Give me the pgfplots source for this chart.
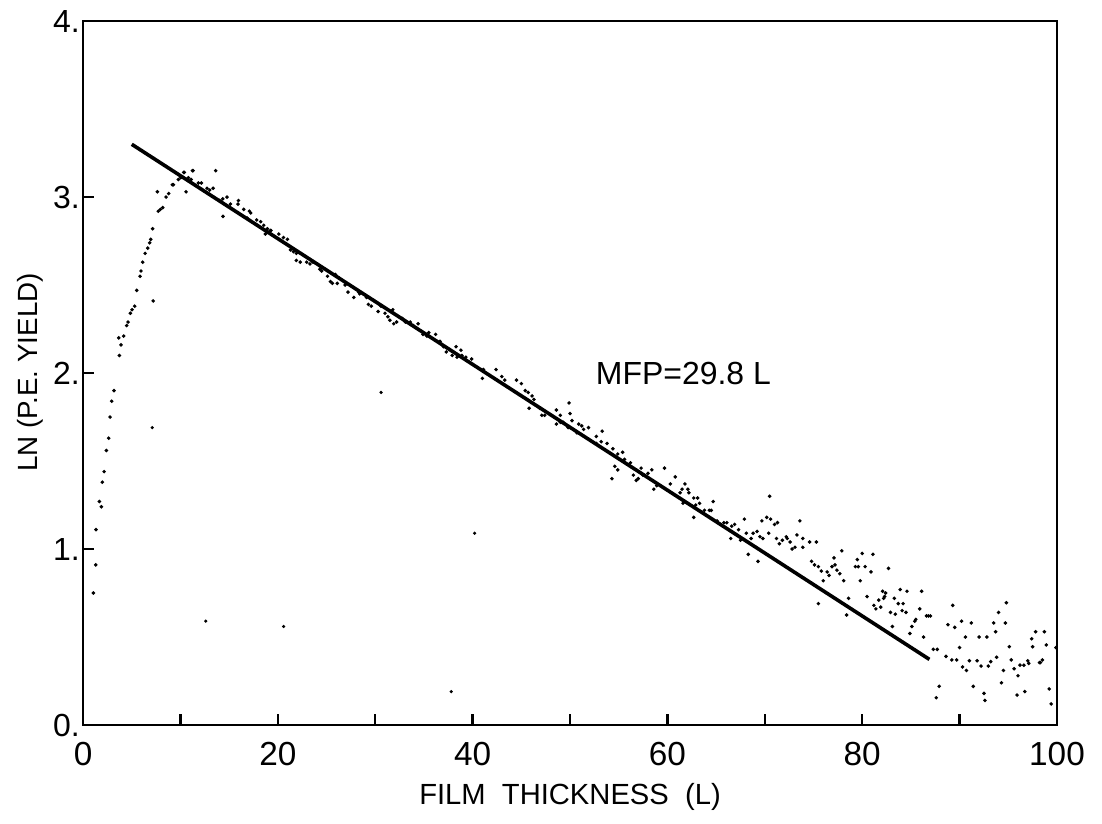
\documentclass[border=0pt]{standalone}
\usepackage{fontspec}
\setmainfont{Liberation Sans}
\usepackage{pgfplots}
\pgfplotsset{compat=1.18}

\begin{document}
\begin{tikzpicture}
\begin{axis}[
  scale only axis,
  width=350.6pt, height=253.4pt,
  xmin=0, xmax=100, ymin=0, ymax=4,
  axis line style={line width=1pt},
  tick pos=left, tick align=inside,
  major tick length=4pt,
  every tick/.style={line width=0.9pt, black},
  xtick={0,10,...,100},
  xticklabels={0,,20,,40,,60,,80,,100},
  ytick={0,1,2,3,4},
  yticklabels={0.,1.,2.,3.,4.},
  /pgf/number format/assume math mode=true,
  xticklabel style={font=\fontsize{12}{14}\selectfont, inner sep=0pt, yshift=-6pt},
  yticklabel style={font=\fontsize{11.5}{13}\selectfont, inner sep=0pt, xshift=-1pt},
  xlabel={FILM\ \ THICKNESS\ \ (L)},
  ylabel={LN (P.E. YIELD)},
  xlabel style={font=\fontsize{10.5}{12}\selectfont, at={(axis description cs:0.5,-0.102)}, anchor=center},
  ylabel style={font=\fontsize{10}{12}\selectfont, at={(axis description cs:-0.0544,0.501)}, anchor=center, rotate=0},
  clip=false,
]
% measured photoelectron yield
\addplot[only marks, mark=*, mark size=0.42pt, black] coordinates {
(1.06,0.75) (1.30,0.91) (1.33,1.11) (1.68,1.27) (1.88,1.24) (1.98,1.38)
(2.16,1.44) (2.39,1.56) (2.63,1.63) (2.77,1.75) (2.94,1.84) (3.18,1.90)
(3.73,2.10) (3.90,2.16) (3.66,2.20) (4.17,2.21) (4.48,2.27) (4.62,2.29)
(4.86,2.34) (5.03,2.36) (5.30,2.38) (5.51,2.47) (5.85,2.55) (5.95,2.58)
(6.12,2.63) (6.37,2.68) (6.64,2.71) (6.84,2.74) (6.95,2.76) (7.15,2.82)
(7.20,2.41) (7.63,3.03) (7.73,2.92) (7.94,2.93) (8.18,2.94) (8.52,3.00)
(8.79,3.02) (9.17,3.07) (9.27,3.07) (9.79,3.10) (10.03,3.11) (10.33,3.14)
(10.40,3.14) (10.57,3.03) (10.82,3.11) (11.09,3.10) (11.23,3.15) (11.30,3.15)
(11.84,3.08) (12.15,3.08) (12.73,3.05) (13.00,3.04) (13.35,3.05) (13.62,3.15)
(14.00,2.98) (14.34,2.99) (14.37,2.89) (14.78,3.00) (15.13,2.96) (15.91,2.96)
(15.95,2.98) (16.50,2.93) (16.87,2.88) (17.08,2.92) (17.21,2.91) (17.83,2.87)
(18.24,2.86) (18.55,2.84) (18.72,2.79) (18.92,2.82) (19.23,2.81) (19.30,2.81)
(20.10,2.79) (20.57,2.77) (20.98,2.76) (21.30,2.70) (21.60,2.69) (21.90,2.68)
(21.90,2.64) (22.30,2.63) (22.96,2.63) (23.30,2.62) (23.60,2.63) (24.30,2.59)
(24.50,2.58) (25.10,2.55) (25.40,2.52) (25.60,2.51) (25.90,2.56) (26.10,2.51)
(26.30,2.54) (26.90,2.50) (27.20,2.46) (27.80,2.43) (28.30,2.46) (28.40,2.45)
(29.10,2.43) (29.30,2.39) (29.60,2.38) (29.90,2.41) (30.30,2.35) (30.60,2.38)
(31.00,2.34) (31.30,2.32) (31.50,2.30) (31.80,2.36) (31.90,2.28) (32.20,2.29)
(32.80,2.31) (33.10,2.29) (33.60,2.29) (33.90,2.27) (34.40,2.28) (34.90,2.22)
(35.30,2.21) (35.50,2.23) (36.20,2.22) (36.65,2.18) (37.00,2.15) (37.30,2.12)
(37.90,2.10) (38.30,2.15) (38.40,2.09) (38.80,2.13) (38.90,2.10) (39.30,2.09)
(39.90,2.08) (41.00,1.97) (41.10,2.02) (42.40,2.02) (43.00,1.98) (43.30,1.96)
(44.50,1.96) (45.00,1.94) (45.40,1.90) (45.70,1.89) (45.80,1.80) (46.10,1.87)
(46.30,1.85) (46.90,1.80) (47.10,1.76) (47.40,1.76) (48.60,1.79) (48.60,1.71)
(49.00,1.76) (49.00,1.72) (49.30,1.72) (49.80,1.69) (49.90,1.83) (50.00,1.77)
(50.20,1.73) (50.70,1.66) (50.90,1.71) (51.20,1.70) (51.40,1.68) (51.90,1.69)
(52.70,1.64) (52.70,1.60) (53.20,1.61) (53.30,1.67) (53.80,1.60) (54.30,1.40)
(54.40,1.57) (54.60,1.47) (54.90,1.54) (54.90,1.45) (55.40,1.55) (55.60,1.51)
(56.20,1.49) (56.50,1.42) (56.80,1.39) (57.00,1.40) (57.30,1.46) (57.50,1.42)
(58.00,1.43) (58.40,1.45) (58.60,1.34) (58.90,1.36) (59.70,1.46) (60.30,1.37)
(60.80,1.41) (61.30,1.32) (61.50,1.34) (61.60,1.26) (61.80,1.37) (62.10,1.34)
(62.20,1.32) (62.70,1.29) (62.70,1.18) (62.90,1.25) (63.10,1.29) (63.30,1.26)
(63.80,1.22) (64.30,1.22) (64.50,1.22) (64.70,1.27) (65.10,1.16) (65.80,1.15)
(66.10,1.15) (66.50,1.06) (66.60,1.13) (66.90,1.14) (67.30,1.11) (67.50,1.05)
(67.90,1.17) (68.10,1.09) (68.30,0.97) (68.60,1.06) (68.80,1.09) (69.20,1.10)
(69.30,0.93) (69.50,1.07) (69.70,1.16) (69.80,1.06) (70.20,1.18) (70.40,1.09)
(70.50,1.30) (70.60,1.17) (71.00,1.14) (71.20,1.06) (71.30,1.15) (71.50,1.03)
(71.80,1.05) (72.20,1.07) (72.30,1.06) (72.60,1.04) (72.80,1.00) (73.10,1.01)
(73.30,1.08) (73.60,1.16) (73.90,1.06) (73.90,1.01) (74.60,1.04) (74.80,0.93)
(75.10,0.91) (75.30,1.04) (75.50,0.90) (75.50,0.69) (75.80,0.875) (76.00,0.82)
(76.40,0.87) (76.60,0.85) (76.90,0.90) (77.10,0.95) (77.20,0.91) (77.40,0.88)
(77.70,0.86) (77.90,0.99) (78.10,0.82) (78.40,0.625) (78.60,0.72) (79.30,0.90)
(79.50,0.94) (79.60,0.90) (79.80,0.82) (80.00,0.975) (80.30,0.90) (80.50,0.73)
(80.90,0.87) (81.10,0.97) (81.20,0.68) (81.40,0.66) (81.70,0.71) (81.90,0.67)
(82.10,0.76) (82.20,0.72) (82.30,0.73) (82.40,0.75) (82.70,0.89) (82.90,0.64)
(83.10,0.56) (83.30,0.72) (83.40,0.63) (83.70,0.69) (83.90,0.77) (84.10,0.65)
(84.20,0.69) (84.50,0.64) (84.60,0.76) (84.90,0.52) (85.10,0.56) (85.40,0.59)
(85.50,0.60) (85.90,0.66) (86.10,0.76) (86.30,0.50) (86.60,0.62) (86.80,0.62)
(87.00,0.62) (87.30,0.43) (87.60,0.155) (87.70,0.43) (87.90,0.22) (88.60,0.39)
(88.80,0.57) (89.20,0.37) (89.30,0.68) (89.50,0.555) (89.70,0.37) (90.00,0.44)
(90.20,0.59) (90.30,0.33) (90.60,0.50) (90.70,0.31) (91.00,0.365) (91.20,0.58)
(91.40,0.22) (91.80,0.365) (92.00,0.50) (92.20,0.335) (92.50,0.18) (92.60,0.14)
(92.80,0.50) (92.95,0.335) (93.20,0.36) (93.50,0.58) (93.70,0.53) (93.80,0.385)
(94.00,0.64) (94.30,0.24) (94.50,0.31) (94.70,0.58) (94.80,0.695) (95.10,0.445)
(95.30,0.37) (95.60,0.32) (95.90,0.17) (96.00,0.28) (96.20,0.34) (96.60,0.34)
(96.70,0.19) (97.00,0.365) (97.10,0.35) (97.40,0.49) (97.50,0.445) (97.80,0.53)
(98.20,0.355) (98.30,0.355) (98.50,0.37) (98.70,0.53) (98.90,0.455) (99.20,0.205)
(99.40,0.12) (99.90,0.44)
};
% isolated stray readings
\addplot[only marks, mark=*, mark size=0.35pt, black] coordinates {
(7.1,1.69) (12.6,0.59) (20.6,0.56) (30.6,1.89) (37.8,0.19) (40.2,1.09)
};
% least-squares fit of the decay
\addplot[black, line width=1.3pt] coordinates {(5.0,3.30) (86.9,0.373)};
\node[anchor=west, font=\fontsize{11.5}{13}\selectfont, inner sep=0pt] at (axis cs:52.6,2.0) {MFP=29.8 L};
\end{axis}
\pgfresetboundingbox
\useasboundingbox (-29.9pt,-35.3pt) rectangle (366.8pt,261pt);
\end{tikzpicture}
\end{document}
